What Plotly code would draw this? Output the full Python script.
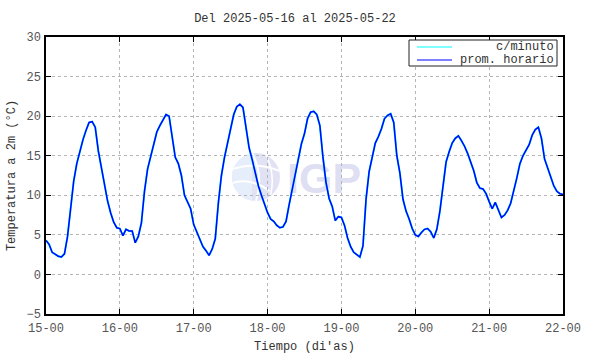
import base64
import pandas as pd
import plotly.graph_objects as go

# ---- data (hourly averages, 2025-05-15 00:00 .. 2025-05-22 00:00) ----
start_time = "2025-05-15 00:00"
day15 = [4.3, 3.8, 2.8, 2.5, 2.3, 2.2, 2.6, 4.8, 8.2, 11.8, 14.0, 15.6, 17.0, 18.2, 19.2, 19.3, 18.6, 15.6, 13.6, 11.6, 9.3, 7.8, 6.6, 5.9]
day16 = [5.8, 4.9, 5.7, 5.5, 5.5, 4.0, 4.8, 6.5, 10.5, 13.3, 15.0, 16.5, 18.0, 18.8, 19.6, 20.2, 20.0, 17.5, 14.8, 14.0, 12.5, 10.0, 9.2, 8.3]
day17 = [6.3, 5.4, 4.3, 3.5, 3.0, 2.4, 3.2, 4.5, 9.0, 12.5, 14.8, 16.6, 18.6, 20.2, 21.2, 21.5, 21.1, 18.5, 16.0, 14.5, 12.8, 11.2, 10.0, 8.8]
day18 = [7.8, 7.0, 6.7, 6.2, 5.9, 6.0, 6.7, 8.8, 10.8, 12.8, 14.8, 16.5, 17.8, 19.7, 20.5, 20.6, 20.2, 18.8, 14.8, 11.6, 9.6, 8.6, 6.8, 7.3]
day19 = [7.2, 6.2, 4.6, 3.5, 2.8, 2.45, 2.2, 3.6, 9.5, 13.0, 14.9, 16.6, 17.4, 18.4, 19.7, 20.1, 20.3, 19.2, 15.0, 12.8, 9.5, 8.0, 7.0, 5.8]
day20 = [5.0, 4.8, 5.3, 5.7, 5.8, 5.4, 4.6, 5.7, 8.0, 11.5, 14.2, 15.5, 16.6, 17.2, 17.5, 16.9, 16.2, 15.3, 14.3, 13.1, 11.6, 10.9, 10.8, 10.2]
day21 = [9.2, 8.3, 9.1, 8.2, 7.2, 7.5, 8.1, 9.0, 10.5, 12.2, 14.0, 15.0, 15.7, 16.4, 17.6, 18.3, 18.6, 17.2, 14.6, 13.4, 12.3, 11.2, 10.5, 10.2]
day22 = [10.1]

hourly = day15 + day16 + day17 + day18 + day19 + day20 + day21 + day22
times = pd.date_range(start_time, periods=len(hourly), freq="h")

y_ticks = [-5, 0, 5, 10, 15, 20, 25, 30]
title_text = "Del 2025-05-16 al 2025-05-22"
x_title = "Tiempo (di'as)"
y_title = "Temperatura a 2m (°C)"
name_min = "c/minuto"
name_hour = "prom. horario"
color_min = "#00ffff"
color_hour = "#0000ff"

FONT = "Liberation Mono, DejaVu Sans Mono, monospace"
W, H = 590, 354
L, R, T, B = 46, 27, 37, 40
PW, PH = W - L - R, H - T - B


def px(x):
    return (x - L) / PW


def py(y):
    return 1 - (y - T) / PH


# ---- watermark (IGP logo) as an inline SVG ----
svg = """<svg xmlns='http://www.w3.org/2000/svg' width='140' height='60' viewBox='0 0 140 60'>
<defs><clipPath id='c'><circle cx='25' cy='30' r='24'/></clipPath></defs>
<circle cx='25' cy='30' r='24' fill='#e2e2f5'/>
<g clip-path='url(#c)'>
<rect x='0' y='0' width='21' height='60' fill='#e6eefb'/>
<path d='M1,22 Q25,14 49,24' stroke='white' stroke-width='2' fill='none'/>
<path d='M1,36 Q19,30 39,44' stroke='white' stroke-width='2' fill='none'/>
<path d='M21,6 Q33,28 25,54' stroke='white' stroke-width='2' fill='none'/>
<path d='M35,8 Q45,28 39,50' stroke='white' stroke-width='1.5' fill='none'/>
</g>
<text x='56' y='46' font-family='Liberation Sans, Arial, sans-serif' font-weight='bold' font-size='43' fill='#dfdff3'>IGP</text>
</svg>"""
svg_uri = "data:image/svg+xml;base64," + base64.b64encode(svg.encode()).decode()

fig = go.Figure()
fig.add_trace(go.Scatter(
    x=times, y=hourly, mode="lines", name=name_min, showlegend=False,
    line=dict(color=color_min, width=2.0),
))
fig.add_trace(go.Scatter(
    x=times, y=hourly, mode="lines", name=name_hour, showlegend=False,
    line=dict(color=color_hour, width=1.5),
))

# manual gnuplot-style legend box
shapes = [
    dict(type="rect", xref="paper", yref="paper", x0=px(409), x1=px(557), y0=py(66), y1=py(40),
         line=dict(color="#222222", width=1), fillcolor="white", layer="above"),
    dict(type="line", xref="paper", yref="paper", x0=px(417), x1=px(452), y0=py(47), y1=py(47),
         line=dict(color=color_min, width=1), layer="above"),
    dict(type="line", xref="paper", yref="paper", x0=px(417), x1=px(452), y0=py(60), y1=py(60),
         line=dict(color=color_hour, width=1.2), layer="above"),
]
annotations = [
    dict(text=name_min, xref="paper", yref="paper", x=px(556), y=py(47), xanchor="right", yanchor="middle",
         showarrow=False, font=dict(family=FONT, size=12, color="#333333")),
    dict(text=name_hour, xref="paper", yref="paper", x=px(556), y=py(60), xanchor="right", yanchor="middle",
         showarrow=False, font=dict(family=FONT, size=12, color="#333333")),
]

fig.update_layout(
    width=W, height=H,
    margin=dict(l=L, r=R, t=T, b=B, autoexpand=False),
    paper_bgcolor="white", plot_bgcolor="white",
    font=dict(family=FONT, size=12, color="#404040"),
    title=dict(text=title_text, x=0.5, xanchor="center", y=1 - 18 / H, yanchor="middle",
               font=dict(family=FONT, size=12, color="#333333")),
    showlegend=False,
    shapes=shapes,
    annotations=annotations,
    images=[dict(source=svg_uri, xref="paper", yref="paper",
                 x=px(231), y=py(147),
                 sizex=140 / PW, sizey=60 / PH,
                 xanchor="left", yanchor="top", layer="below", sizing="stretch")],
)

fig.update_xaxes(
    range=[pd.Timestamp("2025-05-15"), pd.Timestamp("2025-05-22")],
    dtick=86400000, tick0="2025-05-15", tickformat="%d-%H",
    showgrid=True, gridcolor="#b4b4b4", gridwidth=1, griddash="dot",
    showline=True, linecolor="black", linewidth=1.5, mirror="ticks",
    ticks="inside", ticklen=5, tickcolor="black", tickwidth=1,
    ticklabelstandoff=2,
    tickfont=dict(family=FONT, size=12, color="#555555"),
    title=dict(text=x_title, standoff=6, font=dict(family=FONT, size=12, color="#333333")),
    zeroline=False, automargin=False,
)
fig.update_yaxes(
    range=[-5, 30], tickvals=y_ticks,
    showgrid=True, gridcolor="#b4b4b4", gridwidth=1, griddash="dot",
    showline=True, linecolor="black", linewidth=1.5, mirror="ticks",
    ticks="inside", ticklen=5, tickcolor="black", tickwidth=1,
    ticklabelstandoff=1,
    tickfont=dict(family=FONT, size=12, color="#555555"),
    title=dict(text=y_title, standoff=8, font=dict(family=FONT, size=12, color="#333333")),
    zeroline=False, automargin=False,
)

fig.write_html("out.html", config={"displayModeBar": False},
               post_script="document.body.style.margin='0px';")
